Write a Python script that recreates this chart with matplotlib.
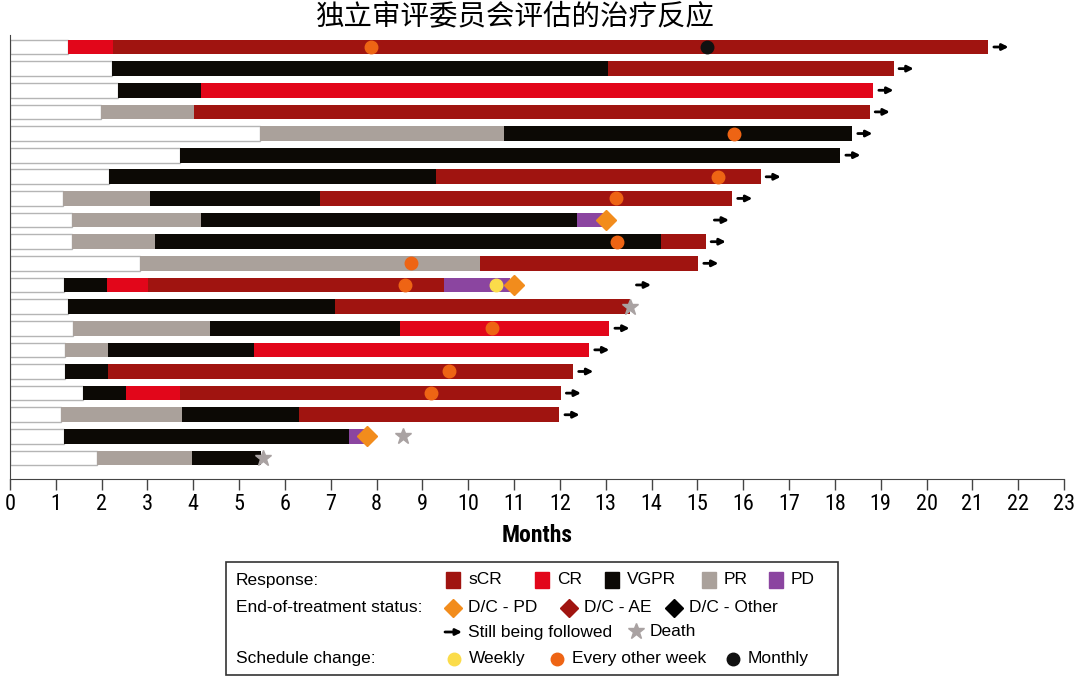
import matplotlib.pyplot as plt
from matplotlib.patches import Rectangle

# colours
colores = {
    'sCR': '#a01410',
    'CR': '#e2061a',
    'VGPR': '#0c0905',
    'PR': '#aaa19b',
    'PD': '#8b45a0',
}
c_semanal = '#fbdc4a'
c_quincenal = '#ee6414'
c_mensual = '#111111'
c_dcpd = '#f28c1c'
c_dcae = '#a01410'
c_muerte = '#a9a2a2'

# datos por paciente (fila 1 arriba)
inicio = [1.26, 2.22, 2.36, 1.99, 5.45, 3.71, 2.17, 1.16, 1.35, 1.36,
          2.84, 1.17, 1.27, 1.38, 1.19, 1.21, 1.59, 1.11, 1.17, 1.89]

respuesta = [
    ['CR', 'sCR'],
    ['VGPR', 'sCR'],
    ['VGPR', 'CR'],
    ['PR', 'sCR'],
    ['PR', 'VGPR'],
    ['VGPR'],
    ['VGPR', 'sCR'],
    ['PR', 'VGPR', 'sCR'],
    ['PR', 'VGPR', 'PD'],
    ['PR', 'VGPR', 'sCR'],
    ['PR', 'sCR'],
    ['VGPR', 'CR', 'sCR', 'PD'],
    ['VGPR', 'sCR'],
    ['PR', 'VGPR', 'CR'],
    ['PR', 'VGPR', 'CR'],
    ['VGPR', 'sCR'],
    ['VGPR', 'CR', 'sCR'],
    ['PR', 'VGPR', 'sCR'],
    ['VGPR', 'PD'],
    ['PR', 'VGPR'],
]

fin_tramo = [
    [2.24, 21.35],
    [13.06, 19.28],
    [4.16, 18.84],
    [4.02, 18.76],
    [10.79, 18.38],
    [18.12],
    [9.29, 16.38],
    [3.06, 6.77, 15.76],
    [4.17, 12.37, 13.0],
    [3.17, 14.21, 15.18],
    [10.25, 15.02],
    [2.11, 3.02, 9.47, 10.9],
    [7.10, 13.54],
    [4.37, 8.52, 13.08],
    [2.13, 5.33, 12.64],
    [2.13, 12.29],
    [2.53, 3.71, 12.02],
    [3.75, 6.30, 11.99],
    [7.39, 7.75],
    [3.97, 5.48],
]

# cambios de pauta
cambio_fila = [1, 1, 5, 7, 8, 10, 11, 12, 12, 14, 16, 17]
cambio_mes = [7.88, 15.2, 15.79, 15.46, 13.22, 13.25, 8.75, 8.62, 10.61, 10.52, 9.59, 9.19]
cambio_tipo = ['quincenal', 'mensual', 'quincenal', 'quincenal', 'quincenal', 'quincenal',
               'quincenal', 'quincenal', 'semanal', 'quincenal', 'quincenal', 'quincenal']

# fin de tratamiento (D/C - PD)
dc_fila = [9, 12, 19]
dc_mes = [13.0, 11.0, 7.80]

# muertes
muerte_fila = [13, 19, 20]
muerte_mes = [13.54, 8.57, 5.52]

# siguen en seguimiento (posicion de la flecha)
sigue_fila = [1, 2, 3, 4, 5, 6, 7, 8, 9, 10, 11, 12, 14, 15, 16, 17, 18]
sigue_mes = [21.47, 19.40, 18.96, 18.88, 18.50, 18.24, 16.50, 15.88, 15.37, 15.30,
             15.14, 13.67, 13.20, 12.76, 12.41, 12.14, 12.11]

meses = list(range(0, 24))

fuente_estrecha = ['Roboto Condensed', 'DejaVu Sans']
plt.rcParams['font.family'] = ['Liberation Sans', 'DejaVu Sans']

fig = plt.figure(figsize=(10.8, 6.78), dpi=100)
ax = fig.add_axes([10 / 1080, 1 - 479 / 678, 1054 / 1080, 444 / 678])

alto = 0.68
for i in range(len(inicio)):
    ax.barh(i, inicio[i], left=0, height=alto, color='white',
            edgecolor='#b5b5b5', linewidth=1)
    izq = inicio[i]
    for resp, fin in zip(respuesta[i], fin_tramo[i]):
        ax.barh(i, fin - izq, left=izq, height=alto, color=colores[resp],
                edgecolor='none')
        izq = fin

col_cambio = {'semanal': c_semanal, 'quincenal': c_quincenal, 'mensual': c_mensual}
for f, m, t in zip(cambio_fila, cambio_mes, cambio_tipo):
    ax.plot(m, f - 1, 'o', color=col_cambio[t], markersize=9, zorder=5)

for f, m in zip(dc_fila, dc_mes):
    ax.plot(m, f - 1, 'D', color=c_dcpd, markersize=10, zorder=6)

for f, m in zip(muerte_fila, muerte_mes):
    ax.plot(m, f - 1, '*', color=c_muerte, markersize=12, zorder=6)

for f, m in zip(sigue_fila, sigue_mes):
    ax.annotate('', xy=(m + 0.32, f - 1), xytext=(m, f - 1),
                arrowprops=dict(arrowstyle='-|>', color='black', lw=2,
                                mutation_scale=9, shrinkA=0, shrinkB=0))

ax.set_xlim(0, 23)
ax.set_ylim(19.97, -0.555)
ax.set_xticks(meses)
ax.set_xticklabels([str(m) for m in meses], family=fuente_estrecha, fontsize=16)
ax.set_yticks([])
ax.spines['top'].set_visible(False)
ax.spines['right'].set_visible(False)
ax.spines['left'].set_color('#444444')
ax.spines['bottom'].set_color('#444444')
ax.tick_params(axis='x', direction='out', length=8, width=1, color='#444444', pad=3)

fig.text(537 / 1080, 1 - 535 / 678, 'Months', ha='center', va='center',
         fontsize=17, fontweight='bold', family=fuente_estrecha)
fig.text(515 / 1080, 1 - 16 / 678, '独立审评委员会评估的治疗反应', ha='center', va='center',
         fontsize=20.5, family=['Noto Sans CJK SC', 'Noto Sans CJK JP', 'DejaVu Sans'])

# leyenda dibujada a mano
lg = fig.add_axes([0, 0, 1, 1])
lg.set_xlim(0, 1080)
lg.set_ylim(678, 0)
lg.axis('off')
lg.add_patch(Rectangle((226, 562), 612, 113, fill=False, edgecolor='#333333', lw=1.2))

tam = 12.5
lg.text(236, 580, 'Response:', va='center', fontsize=tam)
lg.text(236, 608, 'End-of-treatment status:', va='center', fontsize=tam)
lg.text(236, 659, 'Schedule change:', va='center', fontsize=tam)

resp_x = [453, 542, 612, 709, 776]
for nombre, x in zip(['sCR', 'CR', 'VGPR', 'PR', 'PD'], resp_x):
    lg.add_patch(Rectangle((x - 7, 572), 14, 16, color=colores[nombre]))
    lg.text(x + 15, 580, nombre, va='center', fontsize=tam)

fin_x = [453, 569, 674]
fin_col = [c_dcpd, c_dcae, 'black']
fin_txt = ['D/C - PD', 'D/C - AE', 'D/C - Other']
for x, c, t in zip(fin_x, fin_col, fin_txt):
    lg.plot(x, 608, 'D', color=c, markersize=9)
    lg.text(x + 15, 608, t, va='center', fontsize=tam)

lg.annotate('', xy=(462, 632), xytext=(445, 632),
            arrowprops=dict(arrowstyle='-|>', color='black', lw=2,
                            mutation_scale=9, shrinkA=0, shrinkB=0))
lg.text(468, 632, 'Still being followed', va='center', fontsize=tam)
lg.plot(636, 631, '*', color=c_muerte, markersize=12)
lg.text(650, 632, 'Death', va='center', fontsize=tam)

sch_x = [454, 557, 733]
sch_col = [c_semanal, c_quincenal, c_mensual]
sch_txt = ['Weekly', 'Every other week', 'Monthly']
for x, c, t in zip(sch_x, sch_col, sch_txt):
    lg.plot(x, 659, 'o', color=c, markersize=9)
    lg.text(x + 15, 659, t, va='center', fontsize=tam)

fig.savefig('out.png', dpi=100)
